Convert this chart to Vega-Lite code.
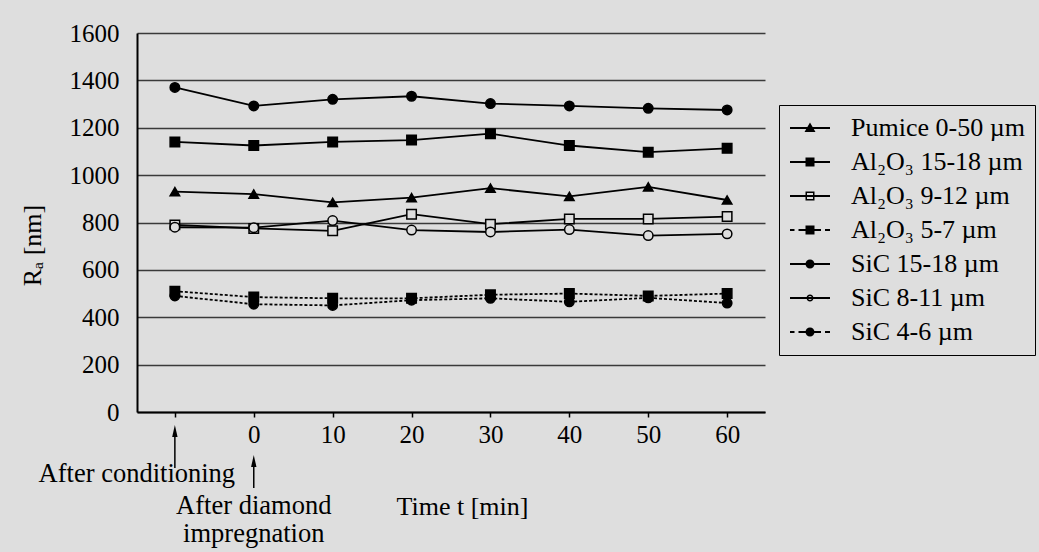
{
  "$schema": "https://vega.github.io/schema/vega-lite/v6.json",
  "autosize": {"type": "none"},
  "width": 628,
  "height": 379,
  "padding": {"left": 137, "top": 33, "right": 274, "bottom": 140},
  "background": "#dedede",
  "config": {
    "font": "Liberation Serif",
    "view": {"stroke": null},
    "axis": {"labelFont": "Liberation Serif", "titleFont": "Liberation Serif", "labelColor": "black", "titleColor": "black", "labelFontSize": 25, "titleFontSize": 26, "titleFontWeight": "normal"},
    "legend": {"labelFont": "Liberation Serif"}
  },
  "data": {
    "values": [
      {"series": "Pumice 0-50 µm", "dashed": false, "t": "After conditioning", "Ra": 930},
      {"series": "Pumice 0-50 µm", "dashed": false, "t": "0", "Ra": 920},
      {"series": "Pumice 0-50 µm", "dashed": false, "t": "10", "Ra": 885},
      {"series": "Pumice 0-50 µm", "dashed": false, "t": "20", "Ra": 905},
      {"series": "Pumice 0-50 µm", "dashed": false, "t": "30", "Ra": 945},
      {"series": "Pumice 0-50 µm", "dashed": false, "t": "40", "Ra": 910},
      {"series": "Pumice 0-50 µm", "dashed": false, "t": "50", "Ra": 950},
      {"series": "Pumice 0-50 µm", "dashed": false, "t": "60", "Ra": 895},
      {"series": "Al₂O₃ 15-18 µm", "dashed": false, "t": "After conditioning", "Ra": 1140},
      {"series": "Al₂O₃ 15-18 µm", "dashed": false, "t": "0", "Ra": 1125},
      {"series": "Al₂O₃ 15-18 µm", "dashed": false, "t": "10", "Ra": 1140},
      {"series": "Al₂O₃ 15-18 µm", "dashed": false, "t": "20", "Ra": 1148},
      {"series": "Al₂O₃ 15-18 µm", "dashed": false, "t": "30", "Ra": 1175},
      {"series": "Al₂O₃ 15-18 µm", "dashed": false, "t": "40", "Ra": 1125},
      {"series": "Al₂O₃ 15-18 µm", "dashed": false, "t": "50", "Ra": 1097},
      {"series": "Al₂O₃ 15-18 µm", "dashed": false, "t": "60", "Ra": 1113},
      {"series": "Al₂O₃ 9-12 µm", "dashed": false, "t": "After conditioning", "Ra": 790},
      {"series": "Al₂O₃ 9-12 µm", "dashed": false, "t": "0", "Ra": 775},
      {"series": "Al₂O₃ 9-12 µm", "dashed": false, "t": "10", "Ra": 765},
      {"series": "Al₂O₃ 9-12 µm", "dashed": false, "t": "20", "Ra": 835},
      {"series": "Al₂O₃ 9-12 µm", "dashed": false, "t": "30", "Ra": 793},
      {"series": "Al₂O₃ 9-12 µm", "dashed": false, "t": "40", "Ra": 815},
      {"series": "Al₂O₃ 9-12 µm", "dashed": false, "t": "50", "Ra": 815},
      {"series": "Al₂O₃ 9-12 µm", "dashed": false, "t": "60", "Ra": 825},
      {"series": "Al₂O₃ 5-7 µm", "dashed": true, "t": "After conditioning", "Ra": 510},
      {"series": "Al₂O₃ 5-7 µm", "dashed": true, "t": "0", "Ra": 485},
      {"series": "Al₂O₃ 5-7 µm", "dashed": true, "t": "10", "Ra": 480},
      {"series": "Al₂O₃ 5-7 µm", "dashed": true, "t": "20", "Ra": 480},
      {"series": "Al₂O₃ 5-7 µm", "dashed": true, "t": "30", "Ra": 495},
      {"series": "Al₂O₃ 5-7 µm", "dashed": true, "t": "40", "Ra": 500},
      {"series": "Al₂O₃ 5-7 µm", "dashed": true, "t": "50", "Ra": 490},
      {"series": "Al₂O₃ 5-7 µm", "dashed": true, "t": "60", "Ra": 500},
      {"series": "SiC 15-18 µm", "dashed": false, "t": "After conditioning", "Ra": 1370},
      {"series": "SiC 15-18 µm", "dashed": false, "t": "0", "Ra": 1292},
      {"series": "SiC 15-18 µm", "dashed": false, "t": "10", "Ra": 1320},
      {"series": "SiC 15-18 µm", "dashed": false, "t": "20", "Ra": 1333},
      {"series": "SiC 15-18 µm", "dashed": false, "t": "30", "Ra": 1302},
      {"series": "SiC 15-18 µm", "dashed": false, "t": "40", "Ra": 1292},
      {"series": "SiC 15-18 µm", "dashed": false, "t": "50", "Ra": 1282},
      {"series": "SiC 15-18 µm", "dashed": false, "t": "60", "Ra": 1275},
      {"series": "SiC 8-11 µm", "dashed": false, "t": "After conditioning", "Ra": 780},
      {"series": "SiC 8-11 µm", "dashed": false, "t": "0", "Ra": 778},
      {"series": "SiC 8-11 µm", "dashed": false, "t": "10", "Ra": 808},
      {"series": "SiC 8-11 µm", "dashed": false, "t": "20", "Ra": 768},
      {"series": "SiC 8-11 µm", "dashed": false, "t": "30", "Ra": 760},
      {"series": "SiC 8-11 µm", "dashed": false, "t": "40", "Ra": 770},
      {"series": "SiC 8-11 µm", "dashed": false, "t": "50", "Ra": 745},
      {"series": "SiC 8-11 µm", "dashed": false, "t": "60", "Ra": 752},
      {"series": "SiC 4-6 µm", "dashed": true, "t": "After conditioning", "Ra": 490},
      {"series": "SiC 4-6 µm", "dashed": true, "t": "0", "Ra": 455},
      {"series": "SiC 4-6 µm", "dashed": true, "t": "10", "Ra": 450},
      {"series": "SiC 4-6 µm", "dashed": true, "t": "20", "Ra": 472},
      {"series": "SiC 4-6 µm", "dashed": true, "t": "30", "Ra": 480},
      {"series": "SiC 4-6 µm", "dashed": true, "t": "40", "Ra": 465},
      {"series": "SiC 4-6 µm", "dashed": true, "t": "50", "Ra": 482},
      {"series": "SiC 4-6 µm", "dashed": true, "t": "60", "Ra": 460}
    ]
  },
  "resolve": {"scale": {"shape": "independent"}, "legend": {"shape": "independent"}},
  "layer": [
    {
      "transform": [{"filter": "!datum.dashed"}],
      "mark": {"type": "line", "color": "black", "strokeWidth": 1.8},
      "encoding": {
        "x": {
          "field": "t", "type": "ordinal",
          "scale": {"type": "point", "domain": ["After conditioning", "0", "10", "20", "30", "40", "50", "60"], "padding": 0.48},
          "axis": {
            "title": "Time t [min]", "titleX": 325, "titleY": 94, "titleAlign": "center", "titleBaseline": "middle", "titleAngle": 0,
            "labelExpr": "datum.value === 'After conditioning' ? '' : datum.label",
            "labelAngle": 0, "labelPadding": 5, "tickSize": 5, "tickColor": "black", "tickWidth": 1.5,
            "domainColor": "black", "domainWidth": 2, "grid": false
          }
        },
        "y": {
          "field": "Ra", "type": "quantitative",
          "scale": {"domain": [0, 1600], "nice": false, "zero": true},
          "axis": {
            "title": "Rₐ [nm]", "titleX": -105, "titleY": 212, "titleAlign": "center", "titleBaseline": "middle",
            "values": [0, 200, 400, 600, 800, 1000, 1200, 1400, 1600], "format": "d",
            "ticks": false, "tickSize": 0, "labelPadding": 18,
            "domainColor": "black", "domainWidth": 2,
            "grid": true, "gridColor": "#3a3a3a", "gridWidth": 1.4
          }
        },
        "detail": {"field": "series", "type": "nominal"}
      }
    },
    {
      "transform": [{"filter": "datum.dashed"}],
      "mark": {"type": "line", "color": "black", "strokeWidth": 1.8, "strokeDash": [3, 2]},
      "encoding": {
        "x": {"field": "t", "type": "ordinal"},
        "y": {"field": "Ra", "type": "quantitative"},
        "detail": {"field": "series", "type": "nominal"}
      }
    },
    {
      "mark": {"type": "point", "stroke": "black", "strokeWidth": 1.5, "opacity": 1, "filled": false},
      "encoding": {
        "x": {"field": "t", "type": "ordinal"},
        "y": {"field": "Ra", "type": "quantitative"},
        "shape": {
          "field": "series", "type": "nominal",
          "scale": {
            "domain": ["Pumice 0-50 µm", "Al₂O₃ 15-18 µm", "Al₂O₃ 9-12 µm", "Al₂O₃ 5-7 µm", "SiC 15-18 µm", "SiC 8-11 µm", "SiC 4-6 µm"],
            "range": ["triangle-up", "square", "square", "square", "circle", "circle", "circle"]
          },
          "legend": null
        },
        "fill": {
          "field": "series", "type": "nominal",
          "scale": {
            "domain": ["Pumice 0-50 µm", "Al₂O₃ 15-18 µm", "Al₂O₃ 9-12 µm", "Al₂O₃ 5-7 µm", "SiC 15-18 µm", "SiC 8-11 µm", "SiC 4-6 µm"],
            "range": ["black", "black", "#dedede", "black", "black", "#dedede", "black"]
          },
          "legend": null
        },
        "size": {"value": 90}
      }
    },
    {
      "transform": [{"filter": "datum.Ra < 0"}],
      "mark": {"type": "point", "filled": true, "color": "black", "opacity": 1, "strokeWidth": 0},
      "encoding": {
        "x": {"field": "t", "type": "ordinal"},
        "y": {"field": "Ra", "type": "quantitative"},
        "shape": {
          "field": "series", "type": "nominal",
          "scale": {
            "domain": ["Pumice 0-50 µm", "Al₂O₃ 15-18 µm", "Al₂O₃ 9-12 µm", "Al₂O₃ 5-7 µm", "SiC 15-18 µm", "SiC 8-11 µm", "SiC 4-6 µm"],
            "range": [
              "M-1.2,-0.09H2.8V0.09H-1.2ZM0.8,-0.55L1.35,0.4H0.25Z",
              "M-1.2,-0.09H2.8V0.09H-1.2ZM0.35,-0.45H1.25V0.45H0.35Z",
              "M-1.2,-0.09H2.8V0.09H-1.2ZM0.35,-0.45H1.25V0.45H0.35ZM0.5,-0.3V0.3H1.1V-0.3Z",
              "M-1.2,-0.09H-0.75V0.09H-1.2ZM-0.35,-0.09H0.4V0.09H-0.35ZM1.2,-0.09H1.9V0.09H1.2ZM2.3,-0.09H2.8V0.09H2.3ZM0.35,-0.45H1.25V0.45H0.35Z",
              "M-1.2,-0.09H2.8V0.09H-1.2ZM0.35,0A0.45,0.45 0 1,1 1.25,0A0.45,0.45 0 1,1 0.35,0Z",
              "M-1.2,-0.09H2.8V0.09H-1.2ZM0.45,0A0.35,0.35 0 1,1 1.15,0A0.35,0.35 0 1,1 0.45,0ZM0.6,0A0.2,0.2 0 1,0 1.0,0A0.2,0.2 0 1,0 0.6,0Z",
              "M-1.2,-0.09H-0.75V0.09H-1.2ZM-0.35,-0.09H0.4V0.09H-0.35ZM1.2,-0.09H1.9V0.09H1.2ZM2.3,-0.09H2.8V0.09H2.3ZM0.35,0A0.45,0.45 0 1,1 1.25,0A0.45,0.45 0 1,1 0.35,0Z"
            ]
          },
          "legend": {
            "title": null, "orient": "none", "legendX": 642, "legendY": 72,
            "strokeColor": "black", "padding": 10, "rowPadding": 8,
            "labelFontSize": 26, "labelColor": "black", "labelLimit": 400, "labelOffset": 36,
            "symbolSize": 400, "symbolFillColor": "black", "symbolStrokeWidth": 0, "symbolOpacity": 1
          }
        },
        "size": {"value": 400}
      }
    },
    {
      "data": {"values": [{"note": "After conditioning", "t": "After conditioning"}]},
      "mark": {"type": "text", "clip": false, "fontSize": 26.5, "font": "Liberation Serif", "color": "black", "align": "center", "baseline": "middle", "dx": -38},
      "encoding": {"x": {"field": "t", "type": "ordinal"}, "y": {"datum": -260}, "text": {"field": "note"}}
    },
    {
      "data": {"values": [{"note": ["After diamond", "impregnation"], "t": "0"}]},
      "mark": {"type": "text", "clip": false, "fontSize": 26.5, "font": "Liberation Serif", "color": "black", "align": "center", "baseline": "middle", "lineHeight": 28},
      "encoding": {"x": {"field": "t", "type": "ordinal"}, "y": {"datum": -397}, "text": {"field": "note"}}
    },
    {
      "data": {"values": [{"t": "After conditioning"}]},
      "mark": {"type": "rule", "clip": false, "color": "black", "strokeWidth": 1.5},
      "encoding": {"x": {"field": "t", "type": "ordinal"}, "y": {"datum": -80}, "y2": {"datum": -236}}
    },
    {
      "data": {"values": [{"t": "0"}]},
      "mark": {"type": "rule", "clip": false, "color": "black", "strokeWidth": 1.5},
      "encoding": {"x": {"field": "t", "type": "ordinal"}, "y": {"datum": -207}, "y2": {"datum": -321}}
    },
    {
      "data": {"values": [{"t": "After conditioning"}]},
      "mark": {"type": "point", "clip": false, "shape": "M0,-1L0.45,1H-0.45Z", "size": 144, "filled": true, "color": "black", "opacity": 1},
      "encoding": {"x": {"field": "t", "type": "ordinal"}, "y": {"datum": -80}}
    },
    {
      "data": {"values": [{"t": "0"}]},
      "mark": {"type": "point", "clip": false, "shape": "M0,-1L0.45,1H-0.45Z", "size": 144, "filled": true, "color": "black", "opacity": 1},
      "encoding": {"x": {"field": "t", "type": "ordinal"}, "y": {"datum": -207}}
    }
  ]
}
